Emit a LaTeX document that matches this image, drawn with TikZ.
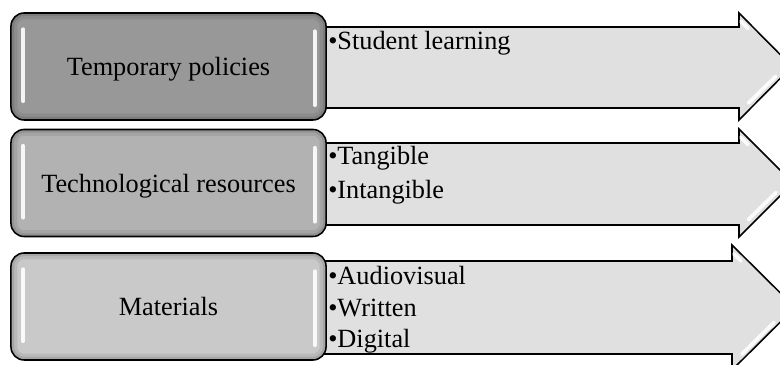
\documentclass[tikz,border=0pt]{standalone}
\usepackage{fontspec}
\setmainfont{Liberation Serif}
\usetikzlibrary{positioning}
\definecolor{darkbox}{RGB}{152,152,152}
\definecolor{midbox}{RGB}{178,178,178}
\definecolor{lightbox}{RGB}{201,201,201}
\definecolor{arrowfill}{RGB}{224,224,224}
\tikzset{
        catbox/.style={draw=black,line width=1.1pt,rounded corners=0.33cm,
                minimum width=7.875cm,minimum height=2.675cm,inner sep=0pt,
                text depth=0pt,font=\fontsize{18.7}{22}\selectfont,
                path picture={
                        \draw [black,opacity=0.08,line width=9pt,rounded corners=0.33cm]
                                (path picture bounding box.south west) rectangle (path picture bounding box.north east);
                        \draw [black,opacity=0.1,line width=4.5pt,rounded corners=0.33cm]
                                (path picture bounding box.south west) rectangle (path picture bounding box.north east);
                        }},
        item/.style={anchor=base west,inner sep=0pt,font=\fontsize{18.7}{22}\selectfont},
        blockarrow/.style={draw=black,fill=arrowfill,line width=1.1pt,line join=miter},
        shine/.style={white,line width=2.6pt,line cap=round,opacity=0.9},
        }

\begin{document}
\begin{tikzpicture}[x=0.025cm,y=-0.025cm]
			\useasboundingbox (0,0) rectangle (780,365);
			\clip (0,0) rectangle (780,365);

			% arrows
			\draw [blockarrow] (300,27) -- (739,27) -- (739,13) -- (792,66.5) -- (739,120) -- (739,108) -- (300,108) -- cycle;
			\draw [blockarrow] (300,143) -- (739,143) -- (739,129) -- (793,183) -- (739,237) -- (739,225) -- (300,225) -- cycle;
			\draw [blockarrow] (300,261) -- (732,261) -- (732,245) -- (795,307.5) -- (732,370) -- (732,354) -- (300,354) -- cycle;

			% arrow heads shine
			\draw [shine] (748.5,103) -- (775.5,76.5);
			\draw [shine] (741,21.5) -- (748,28.5);
			\draw [shine] (748.5,219.5) -- (776,192.5);
			\draw [shine] (741,137.5) -- (748,144.5);
			\draw [shine] (742,354) -- (774,322.5);
			\draw [shine] (734,254) -- (741,261);

			% boxes
			\node [catbox,fill=darkbox] (pol) at (168.5,66.5) {Temporary policies};
			\node [catbox,fill=midbox] (tech) at (168.5,183) {Technological resources};
			\node [catbox,fill=lightbox] (mat) at (168.5,306.5) {Materials};

			\foreach \b in {pol,tech,mat} {
				\draw [shine] (\b.north west) ++(13,17) -- ++(0,72);
				\draw [shine] (\b.north east) ++(-12,19) -- ++(0,74);
			}

			% bullet items
			\node [item] (learn) at (328,50) {\textbullet Student learning};
			\node [item] (tang) at (328,165) {\textbullet Tangible};
			\node [item] (intang) at (328,199) {\textbullet Intangible};
			\node [item] (audio) at (328,285) {\textbullet Audiovisual};
			\node [item] (writ) at (328,317) {\textbullet Written};
			\node [item] (digi) at (328,348) {\textbullet Digital};
		\end{tikzpicture}
\end{document}
